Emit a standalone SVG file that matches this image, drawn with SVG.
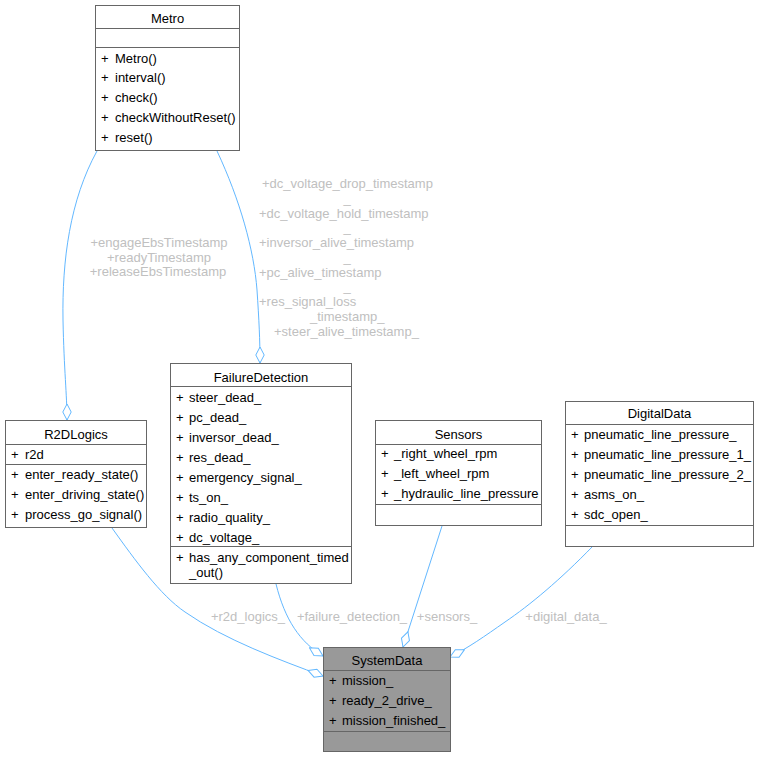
<svg xmlns="http://www.w3.org/2000/svg" width="759" height="757" viewBox="0 0 759 757">
<style>
.box{fill:#fff;stroke:#666;stroke-width:1}
.sys{fill:#999;stroke:#666;stroke-width:1}
.sep{stroke:#666;stroke-width:1}
text{font-family:"Liberation Sans",Arial,Helvetica,sans-serif;font-size:13px;fill:#000}
.t{text-anchor:middle}
.lbl{fill:#c0c0c0}
.lm{fill:#c0c0c0;text-anchor:middle}
.edge{fill:none;stroke:#63b8ff;stroke-width:1;marker-end:url(#dia)}
</style>
<defs>
<marker id="dia" viewBox="0 0 17 10" refX="16.5" refY="5" markerWidth="17" markerHeight="10" markerUnits="userSpaceOnUse" orient="auto">
<path d="M0.5,5 L8.5,0.8 L16.5,5 L8.5,9.2 Z" fill="#fff" stroke="#63b8ff" stroke-width="1"/>
</marker>
</defs>
<rect width="759" height="757" fill="#fff"/>
<g id="connectors">
<path class="edge" d="M97,151 C70,200 62,260 63,320 C64,370 67,395 67,420"/>
<path class="edge" d="M217,151 C240,200 254,250 257,290 C259,320 260,340 260,363"/>
<path class="edge" d="M112,528 C135,560 160,595 185,612 C225,640 280,660 323,676"/>
<path class="edge" d="M276,584 C285,620 300,642 323,656"/>
<path class="edge" d="M442,526 L403,647"/>
<path class="edge" d="M593,546 C560,580 530,605 505,622 C485,636 468,648 450,657"/>
<text class="lm" x="159" y="247">+engageEbsTimestamp</text>
<text class="lm" x="159" y="262">+readyTimestamp</text>
<text class="lm" x="158" y="276">+releaseEbsTimestamp</text>
<text class="lbl" x="262" y="188">+dc_voltage_drop_timestamp</text>
<text class="lm" x="347" y="203">_</text>
<text class="lbl" x="259" y="218">+dc_voltage_hold_timestamp</text>
<text class="lm" x="347" y="232">_</text>
<text class="lbl" x="259" y="247">+inversor_alive_timestamp</text>
<text class="lm" x="347" y="262">_</text>
<text class="lbl" x="259" y="277">+pc_alive_timestamp</text>
<text class="lm" x="347" y="291">_</text>
<text class="lbl" x="259" y="306">+res_signal_loss</text>
<text class="lbl" x="310" y="321">_timestamp_</text>
<text class="lbl" x="274" y="336">+steer_alive_timestamp_</text>
<text class="lm" x="248" y="621">+r2d_logics_</text>
<text class="lm" x="352" y="621">+failure_detection_</text>
<text class="lm" x="447" y="621">+sensors_</text>
<text class="lm" x="566" y="621">+digital_data_</text>
</g>
<g id="Metro">
<rect class="box" x="95.5" y="5.5" width="144" height="145"/>
<line class="sep" x1="95.5" y1="28.5" x2="239.5" y2="28.5"/>
<line class="sep" x1="95.5" y1="47.5" x2="239.5" y2="47.5"/>
<text class="t" x="167.5" y="23">Metro</text>
<text x="101" y="63">+</text><text x="115" y="63">Metro()</text>
<text x="101" y="82">+</text><text x="115" y="82">interval()</text>
<text x="101" y="102">+</text><text x="115" y="102">check()</text>
<text x="101" y="122">+</text><text x="115" y="122">checkWithoutReset()</text>
<text x="101" y="142">+</text><text x="115" y="142">reset()</text>
</g>
<g id="R2DLogics">
<rect class="box" x="5.5" y="420.5" width="141" height="107"/>
<line class="sep" x1="5.5" y1="444.5" x2="146.5" y2="444.5"/>
<line class="sep" x1="5.5" y1="464.5" x2="146.5" y2="464.5"/>
<text class="t" x="76" y="439">R2DLogics</text>
<text x="11" y="459">+</text><text x="25" y="459">r2d</text>
<text x="11" y="479">+</text><text x="25" y="479">enter_ready_state()</text>
<text x="11" y="499">+</text><text x="25" y="499">enter_driving_state()</text>
<text x="11" y="519">+</text><text x="25" y="519">process_go_signal()</text>
</g>
<g id="FailureDetection">
<rect class="box" x="170.5" y="363.5" width="181" height="220"/>
<line class="sep" x1="170.5" y1="386.5" x2="351.5" y2="386.5"/>
<line class="sep" x1="170.5" y1="546.5" x2="351.5" y2="546.5"/>
<text class="t" x="261" y="382">FailureDetection</text>
<text x="176" y="402">+</text><text x="189" y="402">steer_dead_</text>
<text x="176" y="422">+</text><text x="189" y="422">pc_dead_</text>
<text x="176" y="442">+</text><text x="189" y="442">inversor_dead_</text>
<text x="176" y="462">+</text><text x="189" y="462">res_dead_</text>
<text x="176" y="482">+</text><text x="189" y="482">emergency_signal_</text>
<text x="176" y="502">+</text><text x="189" y="502">ts_on_</text>
<text x="176" y="522">+</text><text x="189" y="522">radio_quality_</text>
<text x="176" y="542">+</text><text x="189" y="542">dc_voltage_</text>
<text x="176" y="562">+</text><text x="189" y="562">has_any_component_timed</text>
<text x="189" y="577">_out()</text>
</g>
<g id="Sensors">
<rect class="box" x="375.5" y="420.5" width="166" height="105"/>
<line class="sep" x1="375.5" y1="444.5" x2="541.5" y2="444.5"/>
<line class="sep" x1="375.5" y1="504.5" x2="541.5" y2="504.5"/>
<text class="t" x="458.5" y="439">Sensors</text>
<text x="381" y="458">+</text><text x="394" y="458">_right_wheel_rpm</text>
<text x="381" y="478">+</text><text x="394" y="478">_left_wheel_rpm</text>
<text x="381" y="498">+</text><text x="394" y="498">_hydraulic_line_pressure</text>
</g>
<g id="DigitalData">
<rect class="box" x="565.5" y="401.5" width="188" height="145"/>
<line class="sep" x1="565.5" y1="424.5" x2="753.5" y2="424.5"/>
<line class="sep" x1="565.5" y1="525.5" x2="753.5" y2="525.5"/>
<text class="t" x="659.5" y="418">DigitalData</text>
<text x="571" y="439">+</text><text x="584" y="439">pneumatic_line_pressure_</text>
<text x="571" y="459">+</text><text x="584" y="459">pneumatic_line_pressure_1_</text>
<text x="571" y="479">+</text><text x="584" y="479">pneumatic_line_pressure_2_</text>
<text x="571" y="499">+</text><text x="584" y="499">asms_on_</text>
<text x="571" y="519">+</text><text x="584" y="519">sdc_open_</text>
</g>
<g id="SystemData">
<rect class="sys" x="323.5" y="647.5" width="127" height="104"/>
<line class="sep" x1="323.5" y1="670.5" x2="450.5" y2="670.5"/>
<line class="sep" x1="323.5" y1="731.5" x2="450.5" y2="731.5"/>
<text class="t" x="387" y="665">SystemData</text>
<text x="329" y="685">+</text><text x="342" y="685">mission_</text>
<text x="329" y="705">+</text><text x="342" y="705">ready_2_drive_</text>
<text x="329" y="725">+</text><text x="342" y="725">mission_finished_</text>
</g>
</svg>
